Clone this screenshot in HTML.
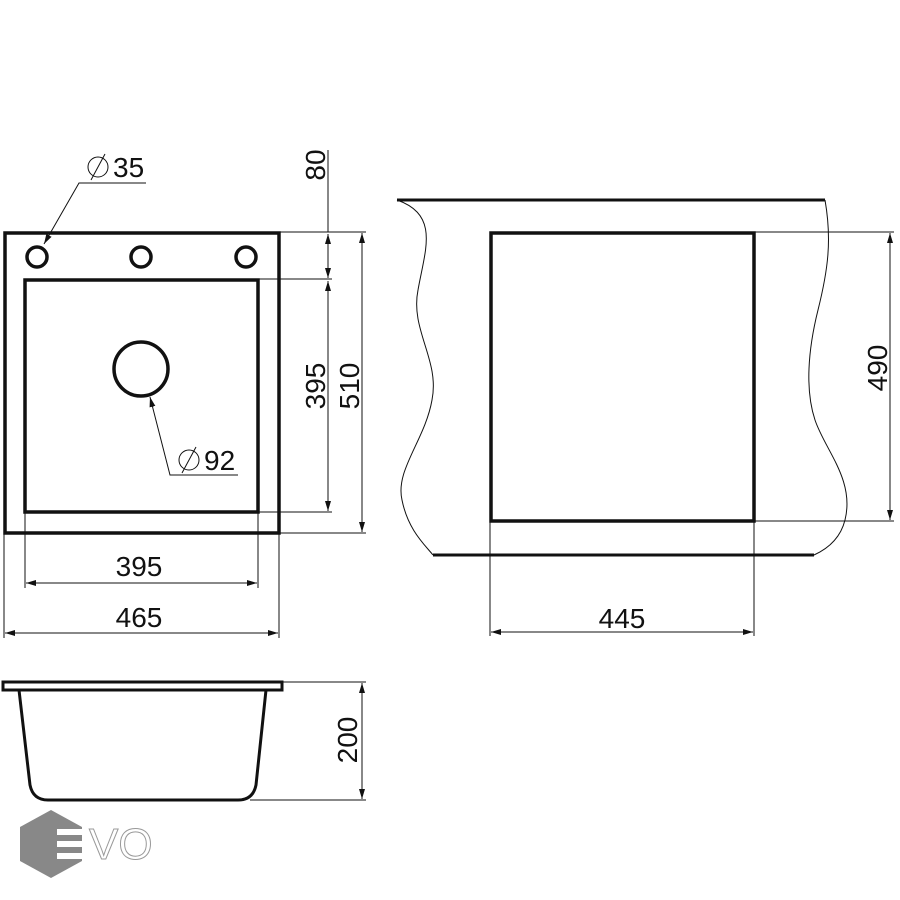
<!DOCTYPE html>
<html><head><meta charset="utf-8"><style>html,body{margin:0;padding:0;background:#fff}svg{display:block}text{font-family:"Liberation Sans",sans-serif;fill:#111}</style></head><body>
<svg width="900" height="900" viewBox="0 0 900 900" xmlns="http://www.w3.org/2000/svg">
<defs><marker id="a" viewBox="0 0 10 6" refX="10" refY="3" markerWidth="10" markerHeight="6" orient="auto-start-reverse" markerUnits="userSpaceOnUse"><path d="M0,0 L10,3 L0,6 Z" fill="#111"/></marker></defs>
<g fill="none" stroke="#111">
<rect x="5" y="233" width="274" height="300" stroke-width="3.5"/>
<rect x="25" y="280" width="233" height="232" stroke-width="3.5"/>
<circle cx="37" cy="257" r="10" stroke-width="3.5"/>
<circle cx="141" cy="257" r="10" stroke-width="3.5"/>
<circle cx="246" cy="257" r="10" stroke-width="3.5"/>
<circle cx="141" cy="369" r="27" stroke-width="3.5"/>
<g stroke-width="1">
<polyline points="44,244 79,183 146,183" marker-start="url(#a)"/>
<polyline points="150,397 170,475 238,475" marker-start="url(#a)"/>
<line x1="328" y1="150" x2="328" y2="232"/>
<line x1="328" y1="234" x2="328" y2="278" marker-start="url(#a)" marker-end="url(#a)"/>
<line x1="328" y1="281" x2="328" y2="511" marker-start="url(#a)" marker-end="url(#a)"/>
<line x1="362" y1="233" x2="362" y2="532" marker-start="url(#a)" marker-end="url(#a)"/>
<line x1="279" y1="232" x2="366" y2="232"/>
<line x1="258" y1="279" x2="332" y2="279"/>
<line x1="258" y1="512" x2="332" y2="512"/>
<line x1="279" y1="533" x2="366" y2="533"/>
<line x1="25" y1="512" x2="25" y2="588"/>
<line x1="258" y1="512" x2="258" y2="588"/>
<line x1="4" y1="533" x2="4" y2="638"/>
<line x1="279" y1="533" x2="279" y2="638"/>
<line x1="26" y1="583" x2="257" y2="583" marker-start="url(#a)" marker-end="url(#a)"/>
<line x1="5" y1="633" x2="278" y2="633" marker-start="url(#a)" marker-end="url(#a)"/>
</g>
<line x1="397" y1="200" x2="825" y2="200" stroke-width="3"/>
<line x1="433" y1="555" x2="814" y2="555" stroke-width="3"/>
<path d="M397,200 C440,215 425,250 418,290 C410,330 440,360 432,400 C425,440 395,470 402,500 C408,530 425,545 433,555" stroke-width="1"/>
<path d="M825,200 C832,240 828,270 818,310 C808,350 805,390 815,420 C825,450 855,480 845,520 C840,540 825,550 814,555" stroke-width="1"/>
<rect x="491" y="233" width="263" height="288" stroke-width="3.5"/>
<g stroke-width="1">
<line x1="754" y1="232" x2="894" y2="232"/>
<line x1="754" y1="521" x2="894" y2="521"/>
<line x1="890" y1="233" x2="890" y2="520" marker-start="url(#a)" marker-end="url(#a)"/>
<line x1="490" y1="521" x2="490" y2="636"/>
<line x1="754" y1="521" x2="754" y2="636"/>
<line x1="491" y1="632" x2="753" y2="632" marker-start="url(#a)" marker-end="url(#a)"/>
</g>
<rect x="3" y="682" width="279" height="8" stroke-width="3"/>
<path d="M19,690 L30,785 Q33,800 48,800 L238,800 Q253,800 256,785 L266,690" stroke-width="3"/>
<g stroke-width="1">
<line x1="282" y1="682" x2="366" y2="682"/>
<line x1="250" y1="800" x2="366" y2="800"/>
<line x1="362" y1="683" x2="362" y2="799" marker-start="url(#a)" marker-end="url(#a)"/>
</g>
</g>
<g font-size="28">
<text x="113" y="177">35</text>
<text x="204" y="470">92</text>
<text x="139" y="576" text-anchor="middle">395</text>
<text x="139" y="627" text-anchor="middle">465</text>
<text x="622" y="628" text-anchor="middle">445</text>
<text transform="translate(325,165) rotate(-90)" text-anchor="middle">80</text>
<text transform="translate(325,386) rotate(-90)" text-anchor="middle">395</text>
<text transform="translate(359,386) rotate(-90)" text-anchor="middle">510</text>
<text transform="translate(887,368) rotate(-90)" text-anchor="middle">490</text>
<text transform="translate(357,740) rotate(-90)" text-anchor="middle">200</text>
</g>
<g fill="none" stroke="#111" stroke-width="1"><circle cx="98" cy="167" r="10"/><line x1="91" y1="180" x2="105" y2="154"/><circle cx="189" cy="460" r="10"/><line x1="182" y1="473" x2="196" y2="447"/></g>
<polygon points="51,810 82,827 82,861 51,878 20,861 20,827" fill="#888"/>
<g fill="#fff"><rect x="57" y="829" width="26" height="6"/><rect x="57" y="841" width="26" height="6"/><rect x="57" y="853" width="26" height="6"/></g>
<text x="89" y="859" font-size="44" style="fill:none;stroke:#999;stroke-width:1">VO</text>
</svg>
</body></html>
